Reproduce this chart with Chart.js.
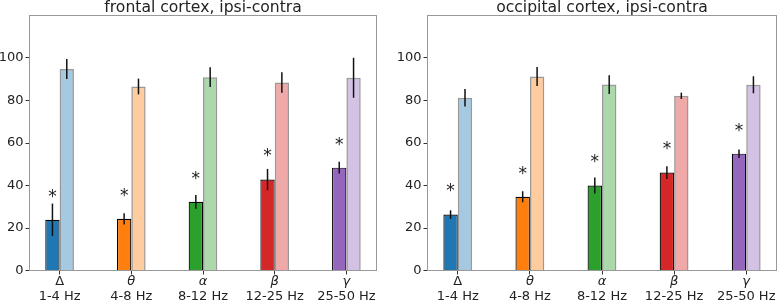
<!DOCTYPE html>
<html>
<head>
<meta charset="utf-8">
<script src="https://cdn.jsdelivr.net/npm/chart.js@4.4.1/dist/chart.umd.min.js"></script>
<style>
    html, body { margin: 0; padding: 0; background: #fff; }
    #wrap { position: relative; width: 777px; height: 302px; }
    .panel { position: absolute; top: 0; height: 302px; }
</style>
</head>
<body>
<div id="wrap">
    <div class="panel" style="left:0;width:390px"><canvas id="frontalChart"></canvas></div>
    <div class="panel" style="left:390px;width:387px"><canvas id="occipitalChart"></canvas></div>
</div>
<script>
/* ========================================
   Band power, ipsi vs contra
   ======================================== */

const bandSymbols = ['Δ', 'θ', 'α', 'β', 'γ'];
const bandRanges = ['1-4 Hz', '4-8 Hz', '8-12 Hz', '12-25 Hz', '25-50 Hz'];
const yTicks = [0, 20, 40, 60, 80, 100];

const frontalIpsi = [23.9, 24.3, 32.3, 42.8, 48.4];
const frontalIpsiErr = [7.6, 2.6, 3.2, 5.0, 2.8];
const frontalContra = [94.8, 86.6, 91.0, 88.5, 90.7];
const frontalContraErr = [4.7, 3.7, 4.7, 4.8, 9.4];

const occipitalIpsi = [26.3, 34.7, 40.0, 46.1, 55.0];
const occipitalIpsiErr = [2.0, 2.6, 3.8, 3.0, 2.0];
const occipitalContra = [81.3, 91.3, 87.5, 82.2, 87.4];
const occipitalContraErr = [4.1, 4.5, 4.4, 1.5, 4.0];

const sigMarks = ['*', '*', '*', '*', '*'];

const darkColors = ['#1f77b4', '#ff7f0e', '#2ca02c', '#d62728', '#9467bd'];
const lightColors = [
    'rgba(31, 119, 180, 0.4)',
    'rgba(255, 127, 14, 0.4)',
    'rgba(44, 160, 44, 0.4)',
    'rgba(214, 39, 40, 0.4)',
    'rgba(148, 103, 189, 0.4)'
];

const X_MIN = -0.42, X_MAX = 4.42;

Chart.defaults.font.family = '"DejaVu Sans", sans-serif';
Chart.defaults.color = '#222';

const FONT = '"DejaVu Sans", sans-serif';

// error bars, significance marks, frame, title and band labels
const decorPlugin = {
    id: 'decor',
    afterDatasetsDraw(chart, args, opts) {
        const ctx = chart.ctx;
        const yScale = chart.scales.y;
        ctx.save();
        ctx.strokeStyle = '#111';
        ctx.lineWidth = 1.5;
        chart.data.datasets.forEach((ds, di) => {
            const meta = chart.getDatasetMeta(di);
            meta.data.forEach((bar, i) => {
                const v = ds.data[i].y;
                const e = ds.errors[i];
                ctx.beginPath();
                ctx.moveTo(bar.x, yScale.getPixelForValue(v - e));
                ctx.lineTo(bar.x, yScale.getPixelForValue(v + e));
                ctx.stroke();
            });
        });

        // asterisks over the ipsi bars
        const meta0 = chart.getDatasetMeta(0);
        ctx.fillStyle = '#222';
        ctx.font = '17px ' + FONT;
        ctx.textAlign = 'center';
        ctx.textBaseline = 'alphabetic';
        meta0.data.forEach((bar, i) => {
            const v = chart.data.datasets[0].data[i].y;
            ctx.fillText(opts.marks[i], bar.x, yScale.getPixelForValue(v + 13) + 9.5);
        });
        ctx.restore();
    },
    afterDraw(chart, args, opts) {
        const ctx = chart.ctx;
        const a = chart.chartArea;
        const xScale = chart.scales.x;
        ctx.save();

        // frame
        const l = Math.floor(a.left), t = Math.floor(a.top);
        const r = Math.floor(a.right), b = Math.floor(a.bottom);
        ctx.strokeStyle = '#999';
        ctx.lineWidth = 1;
        ctx.strokeRect(l + 0.5, t + 0.5, r - l, b - t);

        // title
        ctx.fillStyle = '#222';
        ctx.textAlign = 'center';
        ctx.textBaseline = 'alphabetic';
        ctx.font = '15.6px ' + FONT;
        ctx.fillText(opts.title, (a.left + a.right) / 2, 12);

        // band labels
        bandSymbols.forEach((s, i) => {
            const px = xScale.getPixelForValue(i);
            ctx.font = (s === 'Δ' ? '' : 'italic ') + '13px ' + FONT;
            ctx.fillText(s, px, 285);
            ctx.font = '13px ' + FONT;
            ctx.fillText(bandRanges[i], px, 299.5);
        });
        ctx.restore();
    }
};

function makePanel(canvasId, title, ipsi, ipsiErr, contra, contraErr, leftWidth, padRight) {
    const ctx = document.getElementById(canvasId);
    return new Chart(ctx, {
        type: 'bar',
        data: {
            datasets: [{
                label: 'ipsi',
                data: ipsi.map((v, i) => ({ x: i, y: v })),
                errors: ipsiErr,
                backgroundColor: darkColors,
                borderColor: '#000',
                borderWidth: 1.2
            }, {
                label: 'contra',
                data: contra.map((v, i) => ({ x: i, y: v })),
                errors: contraErr,
                backgroundColor: lightColors,
                borderColor: 'rgba(0, 0, 0, 0.4)',
                borderWidth: 1.5
            }]
        },
        options: {
            animation: false,
            responsive: true,
            maintainAspectRatio: false,
            categoryPercentage: 0.4,
            barPercentage: 1.0,
            layout: { padding: { top: 15.5, right: padRight, bottom: 0, left: 0 } },
            plugins: {
                legend: { display: false },
                tooltip: { enabled: false },
                decor: { title: title, marks: sigMarks }
            },
            scales: {
                x: {
                    type: 'linear',
                    offset: false,
                    bounds: 'data',
                    min: X_MIN,
                    max: X_MAX,
                    afterDataLimits: axis => { axis.min = X_MIN; axis.max = X_MAX; },
                    afterBuildTicks: axis => {
                        axis.ticks = bandSymbols.map((s, i) => ({ value: i }));
                        axis.min = X_MIN;
                        axis.max = X_MAX;
                    },
                    afterFit: axis => { axis.height = 31.5; },
                    ticks: { display: false },
                    grid: { offset: false, drawOnChartArea: false, tickLength: 4, tickColor: '#333', tickWidth: 1 },
                    border: { display: false }
                },
                y: {
                    min: 0,
                    max: 120,
                    afterBuildTicks: axis => { axis.ticks = yTicks.map(v => ({ value: v })); },
                    afterFit: axis => { axis.width = leftWidth; },
                    ticks: { padding: 2, font: { size: 13 }, color: '#222' },
                    grid: { drawOnChartArea: false, tickLength: 4, tickColor: '#333', tickWidth: 1 },
                    border: { display: false }
                }
            }
        },
        plugins: [decorPlugin]
    });
}

makePanel('frontalChart', 'frontal cortex, ipsi-contra',
    frontalIpsi, frontalIpsiErr, frontalContra, frontalContraErr, 29.5, 13.5);
makePanel('occipitalChart', 'occipital cortex, ipsi-contra',
    occipitalIpsi, occipitalIpsiErr, occipitalContra, occipitalContraErr, 37.5, 0.5);
</script>
</body>
</html>
